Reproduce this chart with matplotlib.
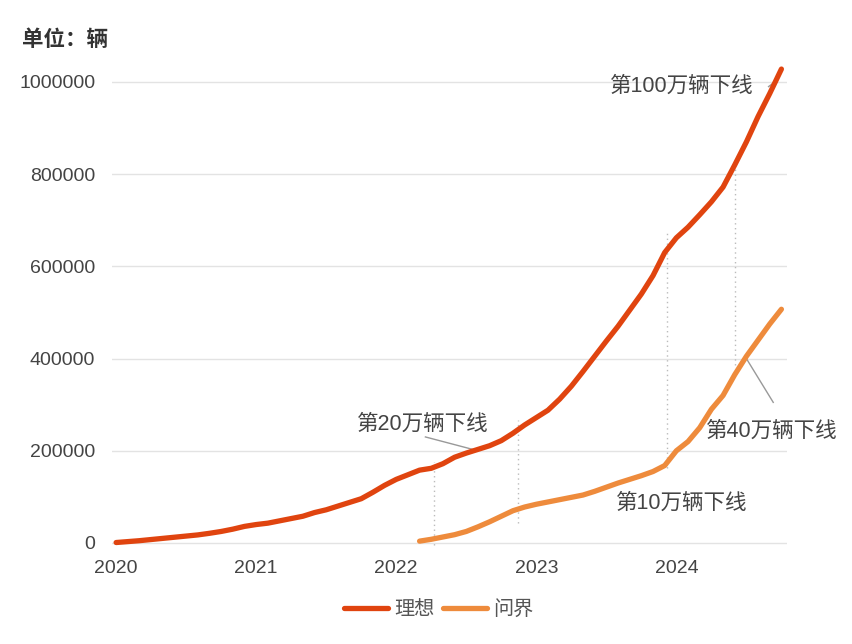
import matplotlib
matplotlib.use("Agg")
import matplotlib.pyplot as plt

plt.rcParams['font.family'] = ['Liberation Sans', 'Noto Sans CJK SC', 'DejaVu Sans']

# months counted from Jan 2020
lixiang_month = list(range(0, 58))
lixiang = [1000, 3000, 5000, 7500, 10000, 12500, 15000, 17500, 21000, 25000,
           30000, 36000, 40000, 43000, 48000, 53000, 58000, 66000, 72000, 80000,
           88000, 96000, 110000, 125000, 138000, 148000, 158000, 162000, 172000, 186000,
           195000, 203000, 211000, 222000, 238000, 256000, 272000, 288000, 312000, 340000,
           372000, 405000, 438000, 470000, 505000, 540000, 580000, 630000, 662000, 685000,
           712000, 740000, 772000, 820000, 870000, 925000, 975000, 1028000]

wenjie_month = list(range(26, 58))
wenjie = [4000, 8000, 13000, 18000, 25000, 35000, 46000, 58000, 70000, 78000,
          84000, 89000, 94000, 99000, 104000, 112000, 121000, 130000, 138000, 146000,
          155000, 168000, 200000, 220000, 250000, 290000, 320000, 365000, 405000, 440000,
          475000, 507000]

year_ticks = [0, 12, 24, 36, 48]
year_labels = ['2020', '2021', '2022', '2023', '2024']

# dotted guide lines: month, low, high
guide_month = [27.25, 34.4, 47.2, 53.0]
guide_low = [-4000, 43000, 162000, 386000]
guide_high = [176000, 267000, 675000, 837000]

c_lx = '#E0440F'
c_wj = '#EE8B3C'

fig = plt.figure(figsize=(8.52, 6.44), dpi=100)
ax = fig.add_axes([0.1315, 0.1497, 0.7925, 0.7588])

ax.vlines(guide_month, guide_low, guide_high, colors='#bbbbbb', linestyles=(0, (1, 2.5)), linewidth=1, zorder=1)

ax.plot(lixiang_month, lixiang, color=c_lx, linewidth=3.8, solid_capstyle='round', label='理想', zorder=3)
ax.plot(wenjie_month, wenjie, color=c_wj, linewidth=3.8, solid_capstyle='round', label='问界', zorder=3)

ax.set_xlim(-0.35, 57.5)
ax.set_ylim(-10000, 1050000)
ax.set_yticks([0, 200000, 400000, 600000, 800000, 1000000])
ax.set_yticklabels(['0', '200000', '400000', '600000', '800000', '1000000'])
ax.set_xticks(year_ticks)
ax.set_xticklabels(year_labels)
ax.grid(axis='y', color='#e3e3e3', linewidth=1)
ax.set_axisbelow(True)
for s in ax.spines.values():
    s.set_visible(False)
ax.tick_params(length=0, labelsize=14, colors='#444444')
ax.tick_params(axis='y', pad=12)
ax.tick_params(axis='x', pad=9)

fig.text(0.026, 0.937, '单位：辆', fontsize=15.5, fontweight='bold', color='#333333', va='center')

tc = '#444444'
ac = '#999999'
ax.text(42.3, 990000, '第100万辆下线', fontsize=15.5, color=tc, va='center')
ax.plot([55.9, 56.6], [990000, 1003000], color=ac, linewidth=1)
ax.text(20.65, 258000, '第20万辆下线', fontsize=15.5, color=tc, va='center')
ax.plot([26.5, 31.0], [230000, 200000], color=ac, linewidth=1)
ax.text(50.5, 243000, '第40万辆下线', fontsize=15.5, color=tc, va='center')
ax.plot([54.0, 56.3], [400000, 305000], color=ac, linewidth=1)
ax.text(42.85, 85000, '第10万辆下线', fontsize=15.5, color=tc, va='center')

fig.legend(loc='lower center', bbox_to_anchor=(0.515, 0.01), ncol=2, frameon=False,
           fontsize=14.5, handlelength=2.2, handletextpad=0.3, columnspacing=0.4,
           labelcolor='#555555')

fig.savefig('out.png', dpi=100)
